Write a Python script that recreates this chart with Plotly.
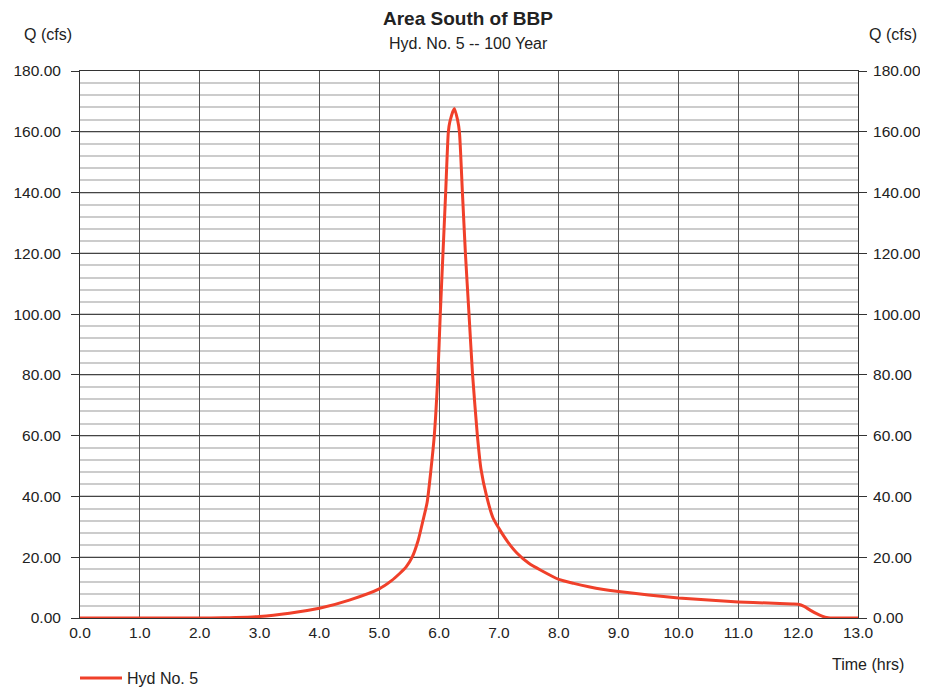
import plotly.graph_objects as go

# Hydrograph readings (time in hrs, Q in cfs)
time_hrs = [0.0, 1.0, 2.0, 2.4, 2.6, 3.0, 3.5, 4.0, 4.5, 5.0, 5.2, 5.35, 5.45, 5.55,
            5.65, 5.73, 5.8, 5.86, 5.92, 5.98, 6.02, 6.065, 6.11, 6.155, 6.18, 6.255,
            6.31, 6.34, 6.39, 6.44, 6.5, 6.56, 6.64, 6.7, 6.795, 6.9, 7.0, 7.15, 7.3,
            7.5, 7.7, 8.0, 8.25, 8.5, 8.75, 9.0, 9.5, 10.0, 10.5, 11.0, 11.5, 11.9, 12.0,
            12.1, 12.2, 12.3, 12.4, 12.5, 12.6, 13.0]
flow_cfs = [0.0, 0.0, 0.0, 0.05, 0.15, 0.5, 1.6, 3.2, 5.9, 9.6, 12.2, 14.8, 16.8, 20.0,
            25.5, 32.0, 38.0, 48.0, 60.0, 80.0, 100.0, 120.0, 140.0, 160.0, 163.3, 167.7,
            163.8, 160.0, 140.0, 120.0, 100.0, 80.0, 60.0, 49.0, 40.0, 33.0, 29.5, 25.0, 21.4,
            18.0, 15.7, 12.7, 11.4, 10.3, 9.4, 8.7, 7.6, 6.6, 5.9, 5.3, 4.9, 4.6, 4.5,
            3.8, 2.6, 1.5, 0.6, 0.1, 0.0, 0.0]

x_ticks = [0, 1, 2, 3, 4, 5, 6, 7, 8, 9, 10, 11, 12, 13]
y_ticks = [0, 20, 40, 60, 80, 100, 120, 140, 160, 180]

title_text = "Area South of BBP"
subtitle_text = "Hyd. No. 5 -- 100 Year"
series_name = "Hyd No. 5"

FONT = "Liberation Sans, Arial, sans-serif"
TXT = "#222222"
TICK_SIZE = 15.5
LBL_SIZE = 16

fig = go.Figure()
fig.add_trace(go.Scatter(x=time_hrs, y=flow_cfs, mode="lines", name=series_name,
                         line=dict(color="#f0402a", width=3, shape="spline", smoothing=0.6)))
fig.add_trace(go.Scatter(x=time_hrs, y=flow_cfs, mode="lines", yaxis="y2",
                         line=dict(color="rgba(0,0,0,0)", width=0), showlegend=False,
                         hoverinfo="skip"))

axis_common = dict(showline=True, linecolor="#333333", linewidth=1, automargin=False,
                   tickfont=dict(family=FONT, size=TICK_SIZE, color=TXT), zeroline=False)

# page has an 8px body margin; plot area in page pixels: x 80..858, y 71..618
W, H = 778, 547
def px(xp):
    return (xp - 80) / W
def py(yp):
    return (618 - yp) / H

fig.update_layout(
    width=920, height=680,
    margin=dict(l=72, r=70, t=63, b=70, autoexpand=False),
    paper_bgcolor="white", plot_bgcolor="white",
    font=dict(family=FONT, color=TXT),
    showlegend=True,
    legend=dict(x=px(75), y=py(678), xanchor="left", yanchor="middle", orientation="h",
                itemwidth=42,
                font=dict(family=FONT, size=LBL_SIZE, color=TXT), bgcolor="rgba(0,0,0,0)"),
    xaxis=dict(range=[0, 13], tickvals=x_ticks, ticktext=[f"{v:.1f}" for v in x_ticks],
               showgrid=True, gridcolor="#555555", gridwidth=1, ticks="",
               mirror=True, **axis_common),
    yaxis=dict(range=[0, 180], tickvals=y_ticks, ticktext=[f"{v:.2f}" for v in y_ticks],
               showgrid=True, gridcolor="#444444", gridwidth=1,
               ticks="outside", ticklen=8, tickcolor="#333333", ticklabelstandoff=7,
               minor=dict(dtick=4, tick0=0, showgrid=True, gridcolor="#cccccc", gridwidth=2, ticks=""),
               **axis_common),
    yaxis2=dict(range=[0, 180], tickvals=y_ticks, ticktext=[f"{v:.2f}" for v in y_ticks],
                overlaying="y", side="right", anchor="x", showgrid=False,
                ticks="outside", ticklen=8, tickcolor="#333333", ticklabelstandoff=3,
                **axis_common),
    annotations=[
        dict(text=f"<b>{title_text}</b>", x=px(468), y=py(18), xanchor="center", yanchor="middle",
             xref="paper", yref="paper", showarrow=False, font=dict(family=FONT, size=19, color=TXT)),
        dict(text=subtitle_text, x=px(468), y=py(44), xanchor="center", yanchor="middle",
             xref="paper", yref="paper", showarrow=False, font=dict(family=FONT, size=LBL_SIZE, color=TXT)),
        dict(text="Q (cfs)", x=px(48), y=py(35), xanchor="center", yanchor="middle",
             xref="paper", yref="paper", showarrow=False, font=dict(family=FONT, size=LBL_SIZE, color=TXT)),
        dict(text="Q (cfs)", x=px(919), y=py(35), xanchor="right", yanchor="middle",
             xref="paper", yref="paper", showarrow=False, font=dict(family=FONT, size=LBL_SIZE, color=TXT)),
        dict(text="Time (hrs)", x=px(906), y=py(664), xanchor="right", yanchor="middle",
             xref="paper", yref="paper", showarrow=False, font=dict(family=FONT, size=LBL_SIZE, color=TXT)),
    ],
)

fig.write_html("out.html")
